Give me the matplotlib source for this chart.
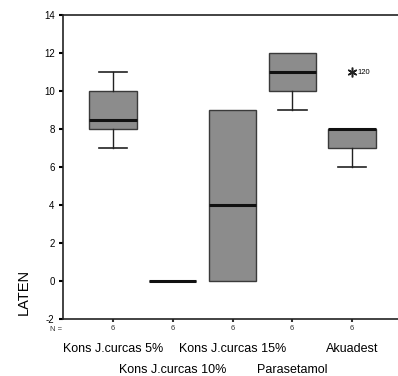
import matplotlib
matplotlib.use("Agg")
import matplotlib.pyplot as plt

plt.rcParams["font.family"] = ["Liberation Sans", "DejaVu Sans"]
plt.rcParams["axes.unicode_minus"] = False

# ========== 数据 ==========
groups = ["Kons J.curcas 5%", "Kons J.curcas 10%", "Kons J.curcas 15%",
          "Parasetamol", "Akuadest"]
n_counts = [6, 6, 6, 6, 6]
q1 = [8, 0, 0, 10, 7]
med = [8.5, 0, 4, 11, 8]
q3 = [10, 0, 9, 12, 8]
whis_lo = [7, 0, 0, 9, 6]
whis_hi = [11, 0, 9, 12, 8]
fliers = [[], [], [], [], [11]]
flier_ids = [[], [], [], [], ["120"]]

stats = []
for i in range(len(groups)):
    stats.append(dict(med=med[i], q1=q1[i], q3=q3[i], whislo=whis_lo[i],
                      whishi=whis_hi[i], fliers=fliers[i]))
pos = list(range(1, len(groups) + 1))

# ========== 绘图 ==========
W, H = 398, 376
fig = plt.figure(figsize=(W / 100, H / 100), dpi=100)
ax = fig.add_axes([63 / W, 57 / H, (W - 63) / W, 304 / H])

bp = ax.bxp(stats, positions=pos, widths=0.79, patch_artist=True,
            showfliers=False,
            boxprops=dict(facecolor="#8c8c8c", edgecolor="#3a3a3a", lw=1),
            medianprops=dict(color="#111111", lw=2.2),
            whiskerprops=dict(color="#222222", lw=1),
            capprops=dict(color="#222222", lw=1.2),
            capwidths=0.48)

# 须长为 0 时不画端线
for i in range(len(groups)):
    if whis_lo[i] == q1[i]:
        bp["caps"][2 * i].set_visible(False)
    if whis_hi[i] == q3[i]:
        bp["caps"][2 * i + 1].set_visible(False)

# 极端值（星号）及编号
for p, fl, ids in zip(pos, fliers, flier_ids):
    for v, lab in zip(fl, ids):
        ax.plot(p, v, marker=(6, 2, 0), color="#222222", ms=7, mew=1.1)
        ax.text(p + 0.09, v, lab, fontsize=5.5, va="center", ha="left")

ax.set_xlim(0.163, 5.77)
ax.set_ylim(-2, 14)
ax.set_yticks(range(-2, 15, 2))
ax.tick_params(axis="y", length=3, width=1.5, labelsize=7, pad=3)
ax.set_xticks(pos)
ax.set_xticklabels([str(n) for n in n_counts])
ax.tick_params(axis="x", length=2, width=1.5, labelsize=5.5, pad=2,
               colors="#333333")
ax.spines["right"].set_visible(False)
for s in ["left", "top", "bottom"]:
    ax.spines[s].set_linewidth(1.2)
    ax.spines[s].set_color("#222222")

ax.text(0.163 - 0.02, -2.55, "N =", fontsize=5.5, ha="right", va="center",
        color="#333333")

# 分类标签（两行交错）
for i, (p, g) in enumerate(zip(pos, groups)):
    yy = -3.6 if i % 2 == 0 else -4.7
    ax.text(p, yy, g, fontsize=9, ha="center", va="center", clip_on=False)

ax.set_ylabel("LATEN", fontsize=10.5)
ax.yaxis.set_label_coords(-0.095, 0.09)

fig.savefig("out.png", dpi=100)
